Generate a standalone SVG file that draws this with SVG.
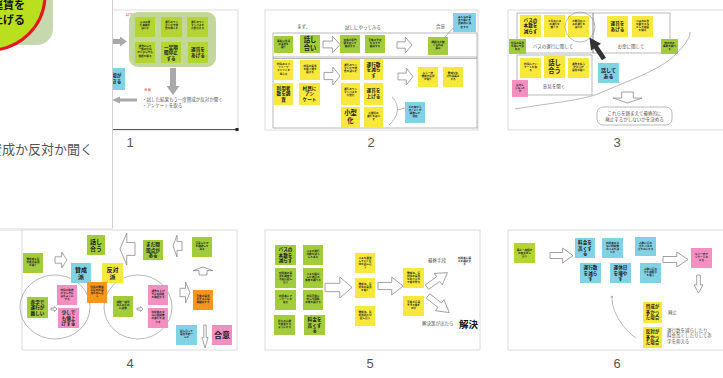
<svg xmlns="http://www.w3.org/2000/svg" width="723" height="378" viewBox="0 0 723 378">
<defs>
<style>
.sl{fill:#fff;stroke:#dcdcdc;stroke-width:1}
.g{fill:#a3cc3a}
.g1{fill:#b4d432}
.y{fill:#f8e83c}
.c{fill:#82d1e4}
.p{fill:#f38fc1}
.o{fill:#f7961e}
text{font-family:"Noto Sans CJK JP","Noto Sans",sans-serif}
.t{font-weight:bold;fill:#1a1a1a;text-anchor:middle}
.s{font-size:2.6px}
.m{font-size:4.6px}
.L{font-size:6.3px}
.lb{fill:#555;font-size:4.5px}
.num{font-family:"Liberation Sans",sans-serif;font-size:13px;fill:#555}
.ar{fill:#fff;stroke:#8a8a8a;stroke-width:0.8}
.ga{fill:#a9a9a9}
.ln{fill:none;stroke:#888;stroke-width:0.6}
.fr{fill:none;stroke:#8a8a8a;stroke-width:0.6}
</style>
<path id="arr" d="M0,0.3H0.55V0L1,0.5L0.55,1V0.7H0Z" vector-effect="non-scaling-stroke"/>
<marker id="mh" viewBox="0 0 6 6" refX="5" refY="3" markerWidth="5" markerHeight="5" orient="auto">
<path d="M0,0L6,3L0,6" fill="none" stroke="#888" stroke-width="1"/>
</marker>
</defs>
<rect width="723" height="378" fill="#fff"/>

<!-- Slide 1 -->
<g id="slide1">
<rect class="sl" x="23" y="10" width="215" height="120"/>
<text x="126" y="16" font-size="3.5" fill="#e03030">試す</text>
<rect x="129" y="12" width="87" height="55" rx="9" fill="#c3d69b"/>
<g id="s1n1"><rect class="g1" x="135" y="17" width="20" height="20"/><text class="t s" x="145" y="23"><tspan x="145">バスの運</tspan><tspan x="145" dy="3.2">行本数を</tspan><tspan x="145" dy="3.2">減らす</tspan></text></g>
<g id="s1n2"><rect class="g1" x="161" y="17" width="21" height="20"/><text class="t s" x="171.5" y="23"><tspan x="171.5">運行のワン</tspan><tspan x="171.5" dy="3.2">マン化で経</tspan><tspan x="171.5" dy="3.2">費を抑える</tspan></text></g>
<g id="s1n3"><rect class="g1" x="187" y="17" width="21" height="20"/><text class="t s" x="197.5" y="23"><tspan x="197.5">運行のワン</tspan><tspan x="197.5" dy="3.2">マンバスを</tspan><tspan x="197.5" dy="3.2">小型化する</tspan></text></g>
<g id="s1n4"><rect class="g1" x="135" y="42" width="20" height="21"/><text class="t s" x="145" y="47"><tspan x="145">運賃として</tspan><tspan x="145" dy="3.2">一部の住民</tspan><tspan x="145" dy="3.2">から少しでも</tspan><tspan x="145" dy="3.2">負担を得る</tspan></text></g>
<g id="s1n5"><rect class="g1" x="161" y="42" width="20" height="21"/><text class="t m" x="171" y="48.5"><tspan x="171">一定期</tspan><tspan x="171" dy="5.5">間停止</tspan><tspan x="171" dy="5.5">する</tspan></text></g>
<g id="s1n6"><rect class="g1" x="188" y="42" width="20" height="21"/><text class="t m" x="198" y="51"><tspan x="198">運賃を</tspan><tspan x="198" dy="5.5">あげる</tspan></text></g>
<path class="ga" d="M108,39H120V36.5L127,41.5L120,46.5V44H108Z"/>
<g id="s1cy"><rect class="c" x="104" y="68" width="21" height="22"/><text class="t m" x="114.5" y="77"><tspan x="114.5">る場が</tspan><tspan x="114.5" dy="6">できる</tspan></text></g>
<path class="ga" d="M170,68H176V86H179.5L173,95L166.5,86H170Z"/>
<text x="144" y="91" font-size="3.5" fill="#e03030">合意</text>
<path class="ga" d="M137,98.5H120V96.5L112,100L120,103.5V101.5H137Z"/>
<text class="lb" x="142" y="101" font-size="4.6">・試した結果もう一度賛成か反対か聞く</text>
<text class="lb" x="142" y="106.5" font-size="4.6">・アンケートを取る</text>
<line x1="112" y1="129.5" x2="237" y2="129.5" stroke="#555" stroke-width="1"/>
<rect x="235.5" y="128" width="3" height="3" fill="#222"/>
</g>

<!-- Left enlarged panel -->
<g id="panel">
<rect x="0" y="0" width="112" height="229" fill="#fff"/>
<rect x="-100" y="-100" width="153" height="145" rx="16" fill="#c7d8ae"/>
<circle cx="-10" cy="-5" r="55" fill="#b9df1e" stroke="#e8141b" stroke-width="3"/>
<text x="25" y="9" font-size="11" font-weight="bold" fill="#111" text-anchor="end">運賃を</text>
<text x="25" y="24" font-size="11" font-weight="bold" fill="#111" text-anchor="end">上げる</text>
<text x="93" y="154" font-size="13" fill="#555" text-anchor="end">賛成か反対か聞く</text>
<line x1="112.5" y1="0" x2="112.5" y2="229" stroke="#d0d0d0" stroke-width="1"/>
<rect x="0" y="228" width="113" height="3" fill="#ececec"/>
</g>

<!-- Slide 2 -->
<g id="slide2">
<rect class="sl" x="265" y="10" width="213" height="120"/>
<rect class="fr" x="273" y="33" width="204" height="95"/>
<line class="fr" x1="273" y1="57" x2="477" y2="57"/>
<line class="fr" x1="273" y1="58.5" x2="477" y2="58.5"/>
<text class="lb" x="297" y="28" font-size="4.5">まず、</text>
<text class="lb" x="345" y="29" font-size="4.5">試しにやってみる</text>
<text class="lb" x="436" y="28" font-size="4.5">合意</text>
<g id="s2a"><rect class="g" x="274" y="36" width="19" height="17"/><text class="t s" x="283.5" y="41.5"><tspan x="283.5">事前に住民</tspan><tspan x="283.5" dy="3.2">の意見を</tspan><tspan x="283.5" dy="3.2">聞く</tspan></text></g>
<g id="s2b"><rect class="g" x="300" y="35" width="20" height="18"/><text class="t L" x="310" y="42.3"><tspan x="310">話し</tspan><tspan x="310" dy="8">合い</tspan></text></g>
<use href="#arr" class="ar" transform="translate(323,36) scale(17,17)"/>
<g id="s2c"><rect class="g" x="340" y="35" width="20" height="18"/><text class="t s" x="350" y="41"><tspan x="350">交通の専門</tspan><tspan x="350" dy="3.2">家を交えて</tspan><tspan x="350" dy="3.2">検討する</tspan></text></g>
<g id="s2d"><rect class="g" x="365" y="35" width="20" height="18"/><text class="t s" x="375" y="41"><tspan x="375">全体の予定</tspan><tspan x="375" dy="3.2">を立てて</tspan><tspan x="375" dy="3.2">検討する</tspan></text></g>
<use href="#arr" class="ar" transform="translate(397,37) scale(15,16)"/>
<g id="s2e"><rect class="g" x="428" y="37" width="20" height="18"/><text class="t s" x="438" y="43"><tspan x="438">問題点が無</tspan><tspan x="438" dy="3.2">くなれば</tspan><tspan x="438" dy="3.2">廃止</tspan></text></g>
<line class="ln" x1="455" y1="26" x2="445" y2="37"/>
<g id="s2f"><rect class="c" x="453" y="13" width="23" height="19"/><text class="t s" x="464.5" y="18"><tspan x="464.5">みんなの意</tspan><tspan x="464.5" dy="3.2">見を聞いて</tspan><tspan x="464.5" dy="3.2">最終的に決</tspan><tspan x="464.5" dy="3.2">定する</tspan></text></g>
<g id="s2g"><rect class="y" x="274" y="60" width="19" height="20"/><text class="t s" x="283.5" y="65"><tspan x="283.5">村民のメリ</tspan><tspan x="283.5" dy="3.2">ット・デ</tspan><tspan x="283.5" dy="3.2">メリットを</tspan><tspan x="283.5" dy="3.2">伝える</tspan></text></g>
<g id="s2h"><rect class="y" x="300" y="60" width="20" height="20"/><text class="t s" x="310" y="66.5"><tspan x="310">村民の意見</tspan><tspan x="310" dy="3.2">を聞く場を</tspan><tspan x="310" dy="3.2">設ける</tspan></text></g>
<g id="s2i"><rect class="y" x="274" y="83" width="19" height="22"/><text class="t m" x="283.5" y="89.5"><tspan x="283.5">利用者</tspan><tspan x="283.5" dy="5.5">数を調</tspan><tspan x="283.5" dy="5.5">査</tspan></text></g>
<g id="s2j"><rect class="y" x="299" y="83" width="21" height="22"/><text class="t m" x="309.5" y="89.5"><tspan x="309.5">村民に</tspan><tspan x="309.5" dy="5.5">アン</tspan><tspan x="309.5" dy="5.5">ケート</tspan></text></g>
<use href="#arr" class="ar" transform="translate(324,67) scale(16,18)"/>
<g id="s2k"><rect class="y" x="341" y="59" width="19" height="21"/><text class="t s" x="350.5" y="65.5"><tspan x="350.5">運行のワン</tspan><tspan x="350.5" dy="3.2">マン化で経</tspan><tspan x="350.5" dy="3.2">費を減らす</tspan></text></g>
<g id="s2l"><rect class="y" x="341" y="83" width="19" height="22"/><text class="t s" x="350.5" y="90"><tspan x="350.5">運行のワン</tspan><tspan x="350.5" dy="3.2">マンバスを</tspan><tspan x="350.5" dy="3.2">小型化</tspan></text></g>
<g id="s2m"><rect class="y" x="341" y="107" width="19" height="21"/><text class="t L" x="350.5" y="115"><tspan x="350.5">小型</tspan><tspan x="350.5" dy="8">化</tspan></text></g>
<g id="s2n"><rect class="y" x="364" y="59" width="19" height="21"/><text class="t m" x="373.5" y="65.5"><tspan x="373.5">運行数</tspan><tspan x="373.5" dy="5.5">を減ら</tspan><tspan x="373.5" dy="5.5">す</tspan></text></g>
<g id="s2o"><rect class="y" x="364" y="83" width="19" height="22"/><text class="t m" x="373.5" y="92"><tspan x="373.5">運賃を</tspan><tspan x="373.5" dy="5.5">上げる</tspan></text></g>
<g id="s2p"><rect class="y" x="364" y="107" width="19" height="21"/><text class="t s" x="373.5" y="114"><tspan x="373.5">土曜日の</tspan><tspan x="373.5" dy="3.2">運行を減ら</tspan><tspan x="373.5" dy="3.2">す</tspan></text></g>
<use href="#arr" class="ar" transform="translate(398,68) scale(15,17)"/>
<g id="s2q"><rect class="y" x="418" y="67" width="20" height="20"/><text class="t s" x="428" y="73.5"><tspan x="428">もう一度</tspan><tspan x="428" dy="3.2">賛成か反対</tspan><tspan x="428" dy="3.2">か聞く</tspan></text></g>
<g id="s2r"><rect class="y" x="443" y="67" width="20" height="20"/><text class="t s" x="453" y="73.5"><tspan x="453">賛成が多</tspan><tspan x="453" dy="3.2">ければ廃止</tspan><tspan x="453" dy="3.2">する</tspan></text></g>
<path class="ln" d="M392,97C400,105 399,116 389,125"/>
<line class="ln" x1="397" y1="110" x2="405" y2="108"/>
<g id="s2s"><rect class="c" x="405" y="102" width="20" height="21"/><text class="t s" x="415" y="107.5"><tspan x="415">どの案がう</tspan><tspan x="415" dy="3.2">まくいくか</tspan><tspan x="415" dy="3.2">調査して</tspan><tspan x="415" dy="3.2">決定</tspan></text></g>
</g>

<!-- Slide 3 -->
<g id="slide3">
<rect class="sl" x="508" y="10" width="216" height="120"/>
<rect class="fr" x="517" y="13" width="76" height="40"/>
<rect class="fr" x="593" y="13" width="77" height="40"/>
<rect class="fr" x="517" y="55" width="75" height="40"/>
<g id="s3a"><rect class="y" x="520" y="15" width="21" height="22"/><text class="t m" x="530.5" y="21.5"><tspan x="530.5">バスの</tspan><tspan x="530.5" dy="5.5">本数を</tspan><tspan x="530.5" dy="5.5">減らす</tspan></text></g>
<g id="s3b"><rect class="y" x="544" y="15" width="21" height="22"/><text class="t s" x="554.5" y="22"><tspan x="554.5">土日のバス</tspan><tspan x="554.5" dy="3.2">の運行を</tspan><tspan x="554.5" dy="3.2">無くす</tspan></text></g>
<g id="s3c"><rect class="y" x="568" y="16" width="21" height="21"/><text class="t s" x="578.5" y="22"><tspan x="578.5">土曜日のバ</tspan><tspan x="578.5" dy="3.2">スの運行を</tspan><tspan x="578.5" dy="3.2">減らす</tspan></text></g>
<ellipse cx="580" cy="27" rx="15" ry="15" fill="none" stroke="#8a8a8a" stroke-width="0.6"/>
<text class="lb" x="553" y="48" text-anchor="middle">バスの運行に関して</text>
<g id="s3d"><rect class="y" x="607" y="16" width="21" height="21"/><text class="t m" x="617.5" y="25"><tspan x="617.5">運賃を</tspan><tspan x="617.5" dy="5.5">あげる</tspan></text></g>
<g id="s3e"><rect class="y" x="632" y="16" width="21" height="21"/><text class="t s" x="642.5" y="21.5"><tspan x="642.5">バスの広告</tspan><tspan x="642.5" dy="3.2">を載せるな</tspan><tspan x="642.5" dy="3.2">どして収益</tspan><tspan x="642.5" dy="3.2">を得る</tspan></text></g>
<text class="lb" x="631" y="48" text-anchor="middle">お金に関して</text>
<g id="s3f"><rect class="g" x="509" y="39" width="17" height="15"/><text class="t s" x="517.5" y="44"><tspan x="517.5">住民の意見</tspan><tspan x="517.5" dy="3.2">を聞いて決</tspan><tspan x="517.5" dy="3.2">める</tspan></text></g>
<g id="s3g"><rect class="g" x="661" y="39" width="17" height="15"/><text class="t s" x="669.5" y="44"><tspan x="669.5">他の村の</tspan><tspan x="669.5" dy="3.2">事例を調べ</tspan><tspan x="669.5" dy="3.2">る</tspan></text></g>
<g id="s3h"><rect class="y" x="520" y="58" width="21" height="20"/><text class="t s" x="530.5" y="64.5"><tspan x="530.5">村民にアン</tspan><tspan x="530.5" dy="3.2">ケートを取</tspan><tspan x="530.5" dy="3.2">る</tspan></text></g>
<g id="s3i"><rect class="y" x="544" y="56" width="21" height="22"/><text class="t L" x="554.5" y="64.5"><tspan x="554.5">話し</tspan><tspan x="554.5" dy="8">合う</tspan></text></g>
<g id="s3j"><rect class="y" x="568" y="58" width="21" height="20"/><text class="t s" x="578.5" y="64.5"><tspan x="578.5">運賃を払う</tspan><tspan x="578.5" dy="3.2">かどうか</tspan><tspan x="578.5" dy="3.2">意見を聞く</tspan></text></g>
<text class="lb" x="554" y="88" text-anchor="middle">意見を聞く</text>
<g id="s3k"><rect class="p" x="512" y="80" width="16" height="17"/><text class="t s" x="520" y="86"><tspan x="520">なぜこ</tspan><tspan x="520" dy="3.2">うなった</tspan><tspan x="520" dy="3.2">か</tspan></text></g>
<g id="s3l"><rect class="c" x="598" y="63" width="21" height="20"/><text class="t" font-size="5" x="608.5" y="71.5"><tspan x="608.5">話して</tspan><tspan x="608.5" dy="6.6">ある</tspan></text></g>
<use href="#arr" fill="#333" transform="translate(604,59) rotate(-124) scale(26,12) translate(0,-0.5)"/>
<path class="ln" d="M515,109C550,103 585,100 600,93C630,80 660,70 675,55C685,45 690,38 690,32"/>
<use href="#arr" class="ar" transform="translate(642,92) rotate(90) scale(11,29)"/>
<rect x="597" y="107" width="75" height="18" rx="6" fill="#fff" stroke="#8a8a8a" stroke-width="0.6"/>
<text class="lb" x="634.5" y="114.5" font-size="4.8" text-anchor="middle">これらを踏まえて最終的に</text>
<text class="lb" x="634.5" y="121" font-size="4.8" text-anchor="middle">廃止するかしないかを決める</text>
</g>

<!-- Slide 4 -->
<g id="slide4">
<rect class="sl" x="22" y="230" width="215" height="120"/>
<ellipse cx="55" cy="307" rx="35" ry="32" fill="none" stroke="#999" stroke-width="0.7"/>
<ellipse cx="138" cy="307" rx="34" ry="32" fill="none" stroke="#999" stroke-width="0.7"/>
<g id="s4a"><rect class="g" x="23" y="253" width="20" height="20"/><text class="t s" x="33" y="259.5"><tspan x="33">賛成者と反</tspan><tspan x="33" dy="3.2">対者の意見</tspan><tspan x="33" dy="3.2">を聞く</tspan></text></g>
<use href="#arr" class="ar" transform="translate(55,252) scale(12,16)"/>
<g id="s4b"><rect class="g" x="87" y="235" width="18" height="20"/><text class="t" font-size="6" x="96" y="243.5"><tspan x="96">話し</tspan><tspan x="96" dy="7.6">合う</tspan></text></g>
<use href="#arr" class="ar" transform="translate(135,233) scale(-15,32)"/>
<g id="s4c"><rect class="g" x="143" y="240" width="20" height="20"/><text class="t m" x="153" y="246"><tspan x="153">まだ問</tspan><tspan x="153" dy="5.5">題点が</tspan><tspan x="153" dy="5.5">ある</tspan></text></g>
<use href="#arr" class="ar" transform="translate(182,235) scale(-9,22)"/>
<g id="s4d"><rect class="g" x="192" y="237" width="20" height="20"/><text class="t s" x="202" y="243.5"><tspan x="202">合意したか</tspan><tspan x="202" dy="3.2">を確認して</tspan><tspan x="202" dy="3.2">みる</tspan></text></g>
<use href="#arr" class="ar" transform="translate(193,275) rotate(-90) scale(8,20)"/>
<g id="s4e"><rect class="c" x="71" y="263" width="20" height="20"/><text class="t" font-size="6" x="81" y="271.5"><tspan x="81">賛成</tspan><tspan x="81" dy="7.6">派</tspan></text></g>
<g id="s4f"><rect class="y" x="102" y="263" width="21" height="20"/><text class="t" font-size="6" x="112.5" y="271.5"><tspan x="112.5">反対</tspan><tspan x="112.5" dy="7.6">派</tspan></text></g>
<g id="s4g"><rect class="o" x="87" y="282" width="20" height="21"/><text class="t s" x="97" y="287.5"><tspan x="97">住民の賛成</tspan><tspan x="97" dy="3.2">と反対の意</tspan><tspan x="97" dy="3.2">見を出し合</tspan><tspan x="97" dy="3.2">う</tspan></text></g>
<g id="s4h"><rect class="g" x="27" y="297" width="21" height="21"/><text class="t m" x="37.5" y="303.5"><tspan x="37.5">赤字で</tspan><tspan x="37.5" dy="5.5">運行が</tspan><tspan x="37.5" dy="5.5">難しい</tspan></text></g>
<use href="#arr" class="ar" transform="translate(51,306.5) scale(6,5)"/>
<g id="s4i"><rect class="p" x="57" y="285" width="20" height="20"/><text class="t s" x="67" y="290.5"><tspan x="67">村民の負担</tspan><tspan x="67" dy="3.2">が少しでも</tspan><tspan x="67" dy="3.2">減るように</tspan><tspan x="67" dy="3.2">する</tspan></text></g>
<g id="s4j"><rect class="p" x="58" y="308" width="21" height="20"/><text class="t m" x="68.5" y="314"><tspan x="68.5">少しで</tspan><tspan x="68.5" dy="5.5">も値上</tspan><tspan x="68.5" dy="5.5">げする</tspan></text></g>
<g id="s4k"><rect class="g" x="113" y="296" width="20" height="21"/><text class="t s" x="123" y="302.5"><tspan x="123">通勤・通学</tspan><tspan x="123" dy="3.2">の人のため</tspan><tspan x="123" dy="3.2">に必要</tspan></text></g>
<use href="#arr" class="ar" transform="translate(137,306.5) scale(6,5)"/>
<g id="s4l"><rect class="p" x="148" y="285" width="20" height="20"/><text class="t s" x="158" y="291.5"><tspan x="158">運賃を上げ</tspan><tspan x="158" dy="3.2">ても利用者</tspan><tspan x="158" dy="3.2">を確保する</tspan></text></g>
<g id="s4m"><rect class="p" x="148" y="308" width="20" height="20"/><text class="t s" x="158" y="313"><tspan x="158">利用者の少</tspan><tspan x="158" dy="3.2">ない時間帯</tspan><tspan x="158" dy="3.2">の運行を減</tspan><tspan x="158" dy="3.2">らす</tspan></text></g>
<use href="#arr" class="ar" transform="translate(180,282) scale(10,21)"/>
<g id="s4n"><rect class="o" x="193" y="290" width="20" height="20"/><text class="t s" x="203" y="296.5"><tspan x="203">全員の意見</tspan><tspan x="203" dy="3.2">がそろえば</tspan><tspan x="203" dy="3.2">再検討する</tspan></text></g>
<g id="s4o"><rect class="c" x="176" y="325" width="21" height="20"/><text class="t s" x="186.5" y="331.5"><tspan x="186.5">話し合って</tspan><tspan x="186.5" dy="3.2">意見を統一</tspan><tspan x="186.5" dy="3.2">した</tspan></text></g>
<use href="#arr" class="ar" transform="translate(208,325) rotate(90) scale(23,6)"/>
<g id="s4p"><rect class="p" x="212" y="325" width="20" height="20"/><text class="t" font-size="8" x="222" y="338">合意</text></g>
</g>

<!-- Slide 5 -->
<g id="slide5">
<rect class="sl" x="265" y="230" width="215" height="120"/>
<g id="s5a"><rect class="g" x="275" y="245" width="21" height="20"/><text class="t m" x="285.5" y="251"><tspan x="285.5">バスの</tspan><tspan x="285.5" dy="5.5">本数を</tspan><tspan x="285.5" dy="5.5">減らす</tspan></text></g>
<g id="s5b"><rect class="g" x="275" y="268" width="21" height="20"/><text class="t s" x="285.5" y="273.5"><tspan x="285.5">利用者の意</tspan><tspan x="285.5" dy="3.2">見を調査す</tspan><tspan x="285.5" dy="3.2">る前に話し</tspan><tspan x="285.5" dy="3.2">合う</tspan></text></g>
<g id="s5c"><rect class="g" x="275" y="290" width="21" height="20"/><text class="t s" x="285.5" y="296.5"><tspan x="285.5">利用者にア</tspan><tspan x="285.5" dy="3.2">ンケートを</tspan><tspan x="285.5" dy="3.2">取る</tspan></text></g>
<g id="s5d"><rect class="g" x="274" y="315" width="21" height="20"/><text class="t s" x="284.5" y="321.5"><tspan x="284.5">最小の人数</tspan><tspan x="284.5" dy="3.2">で運営する</tspan><tspan x="284.5" dy="3.2">ようにする</tspan></text></g>
<g id="s5e"><rect class="g" x="303" y="245" width="20" height="20"/><text class="t s" x="313" y="251.5"><tspan x="313">バスの運行</tspan><tspan x="313" dy="3.2">日数を減ら</tspan><tspan x="313" dy="3.2">してみる</tspan></text></g>
<g id="s5f"><rect class="g" x="303" y="268" width="20" height="20"/><text class="t s" x="313" y="274.5"><tspan x="313">バスを廃止</tspan><tspan x="313" dy="3.2">した場合の</tspan><tspan x="313" dy="3.2">影響を調べる</tspan></text></g>
<g id="s5g"><rect class="g" x="303" y="290" width="20" height="20"/><text class="t s" x="313" y="296.5"><tspan x="313">村民全員に</tspan><tspan x="313" dy="3.2">対して説明</tspan><tspan x="313" dy="3.2">の場を設ける</tspan></text></g>
<g id="s5h"><rect class="g" x="304" y="315" width="21" height="20"/><text class="t m" x="314.5" y="321"><tspan x="314.5">料金を</tspan><tspan x="314.5" dy="5.5">高くす</tspan><tspan x="314.5" dy="5.5">る</tspan></text></g>
<use href="#arr" class="ar" transform="translate(325,277) scale(27,21)"/>
<g id="s5i"><rect class="y" x="355" y="253" width="20" height="20"/><text class="t s" x="365" y="258.5"><tspan x="365">バスを運営</tspan><tspan x="365" dy="3.2">していく方</tspan><tspan x="365" dy="3.2">法を話し合</tspan><tspan x="365" dy="3.2">う</tspan></text></g>
<g id="s5j"><rect class="y" x="355" y="278" width="20" height="20"/><text class="t s" x="365" y="284.5"><tspan x="365">賛成派、反</tspan><tspan x="365" dy="3.2">対派の意見</tspan><tspan x="365" dy="3.2">を聞く</tspan></text></g>
<g id="s5k"><rect class="y" x="355" y="306" width="20" height="20"/><text class="t s" x="365" y="312.5"><tspan x="365">賛成派、反</tspan><tspan x="365" dy="3.2">対派同士が</tspan><tspan x="365" dy="3.2">話し合う</tspan></text></g>
<use href="#arr" class="ar" transform="translate(378,277) scale(25,18)"/>
<g id="s5l"><rect class="y" x="403" y="268" width="21" height="20"/><text class="t s" x="413.5" y="273.5"><tspan x="413.5">賛成派、反</tspan><tspan x="413.5" dy="3.2">対派の意見</tspan><tspan x="413.5" dy="3.2">を取り入れ</tspan><tspan x="413.5" dy="3.2">て案を作る</tspan></text></g>
<g id="s5m"><rect class="y" x="403" y="296" width="21" height="20"/><text class="t s" x="413.5" y="302.5"><tspan x="413.5">全員が合意</tspan><tspan x="413.5" dy="3.2">できる案を</tspan><tspan x="413.5" dy="3.2">出す</tspan></text></g>
<text class="lb" x="428" y="261.5">最終手段</text>
<text class="t s" x="464.5" y="259"><tspan x="464.5">利用者に廃</tspan><tspan x="464.5" dy="3.2">止を検討す</tspan><tspan x="464.5" dy="3.2">る</tspan></text>
<use href="#arr" class="ar" transform="translate(427,287) rotate(-35) scale(25,14) translate(0,-0.5)"/>
<use href="#arr" class="ar" transform="translate(428,296) rotate(38) scale(27,14) translate(0,-0.5)"/>
<text class="lb" x="422" y="325" font-size="4.3">解決策が出たら</text>
<text x="468.5" y="328" font-size="9.5" font-weight="bold" fill="#111" text-anchor="middle">解決</text>
</g>

<!-- Slide 6 -->
<g id="slide6">
<rect class="sl" x="508" y="230" width="216" height="120"/>
<g id="s6a"><rect class="g1" x="514" y="243" width="21" height="20"/><text class="t s" x="524.5" y="250.5"><tspan x="524.5">廃止・存続か</tspan><tspan x="524.5" dy="3.2">の案を出し</tspan><tspan x="524.5" dy="3.2">合う</tspan></text></g>
<use href="#arr" class="ar" transform="translate(550,248) scale(23,15)"/>
<g id="s6b"><rect class="c" x="575" y="238" width="20" height="20"/><text class="t m" x="585" y="244"><tspan x="585">料金を</tspan><tspan x="585" dy="5.5">高くす</tspan><tspan x="585" dy="5.5">る</tspan></text></g>
<g id="s6c"><rect class="c" x="602" y="238" width="21" height="20"/><text class="t s" x="612.5" y="243.5"><tspan x="612.5">利用者の少</tspan><tspan x="612.5" dy="3.2">ない時間帯</tspan><tspan x="612.5" dy="3.2">のバスを減</tspan><tspan x="612.5" dy="3.2">らす</tspan></text></g>
<g id="s6d"><rect class="c" x="635" y="237" width="21" height="19"/><text class="t s" x="645.5" y="243.5"><tspan x="645.5">人数に合わ</tspan><tspan x="645.5" dy="3.2">せたバスの</tspan><tspan x="645.5" dy="3.2">大きさにする</tspan></text></g>
<g id="s6e"><rect class="c" x="580" y="263" width="21" height="20"/><text class="t m" x="590.5" y="269"><tspan x="590.5">運行数</tspan><tspan x="590.5" dy="5.5">を減ら</tspan><tspan x="590.5" dy="5.5">す</tspan></text></g>
<g id="s6f"><rect class="c" x="610" y="263" width="21" height="20"/><text class="t m" x="620.5" y="269"><tspan x="620.5">運休日</tspan><tspan x="620.5" dy="5.5">を増や</tspan><tspan x="620.5" dy="5.5">す</tspan></text></g>
<g id="s6g"><rect class="c" x="640" y="263" width="21" height="20"/><text class="t s" x="650.5" y="269.5"><tspan x="650.5">人数に合わ</tspan><tspan x="650.5" dy="3.2">せた運転手</tspan><tspan x="650.5" dy="3.2">を雇う</tspan></text></g>
<use href="#arr" class="ar" transform="translate(663,252) scale(25,15)"/>
<g id="s6h"><rect class="p" x="691" y="248" width="21" height="20"/><text class="t s" x="701.5" y="254.5"><tspan x="701.5">もう一度ア</tspan><tspan x="701.5" dy="3.2">ンケートを</tspan><tspan x="701.5" dy="3.2">とる</tspan></text></g>
<use href="#arr" class="ar" transform="translate(703,275) rotate(90) scale(18,9)"/>
<path class="ln" d="M636,338C624,330 611,312 612,296" marker-end="url(#mh)"/>
<g id="s6i"><rect class="y" x="643" y="302" width="19" height="21"/><text class="t" font-size="4.5" x="652.5" y="308"><tspan x="652.5">賛成が</tspan><tspan x="652.5" dy="5.5">多かっ</tspan><tspan x="652.5" dy="5.5">た場合</tspan></text></g>
<text class="lb" x="668" y="314">廃止</text>
<g id="s6j"><rect class="y" x="643" y="327" width="19" height="21"/><text class="t" font-size="4.5" x="652.5" y="333"><tspan x="652.5">反対が</tspan><tspan x="652.5" dy="5.5">多かっ</tspan><tspan x="652.5" dy="5.5">た場合</tspan></text></g>
<text class="lb" x="667" y="332" font-size="4.6"><tspan x="667">運行数を減らしたり、</tspan><tspan x="667" dy="5.3">料金高くしたりして赤</tspan><tspan x="667" dy="5.3">字を抑える</tspan></text>
</g>

<g id="numbers">
<text class="num" x="130" y="147" text-anchor="middle">1</text>
<text class="num" x="371" y="147" text-anchor="middle">2</text>
<text class="num" x="617" y="147" text-anchor="middle">3</text>
<text class="num" x="130" y="368" text-anchor="middle">4</text>
<text class="num" x="370" y="368" text-anchor="middle">5</text>
<text class="num" x="617" y="368" text-anchor="middle">6</text>
</g>
</svg>
